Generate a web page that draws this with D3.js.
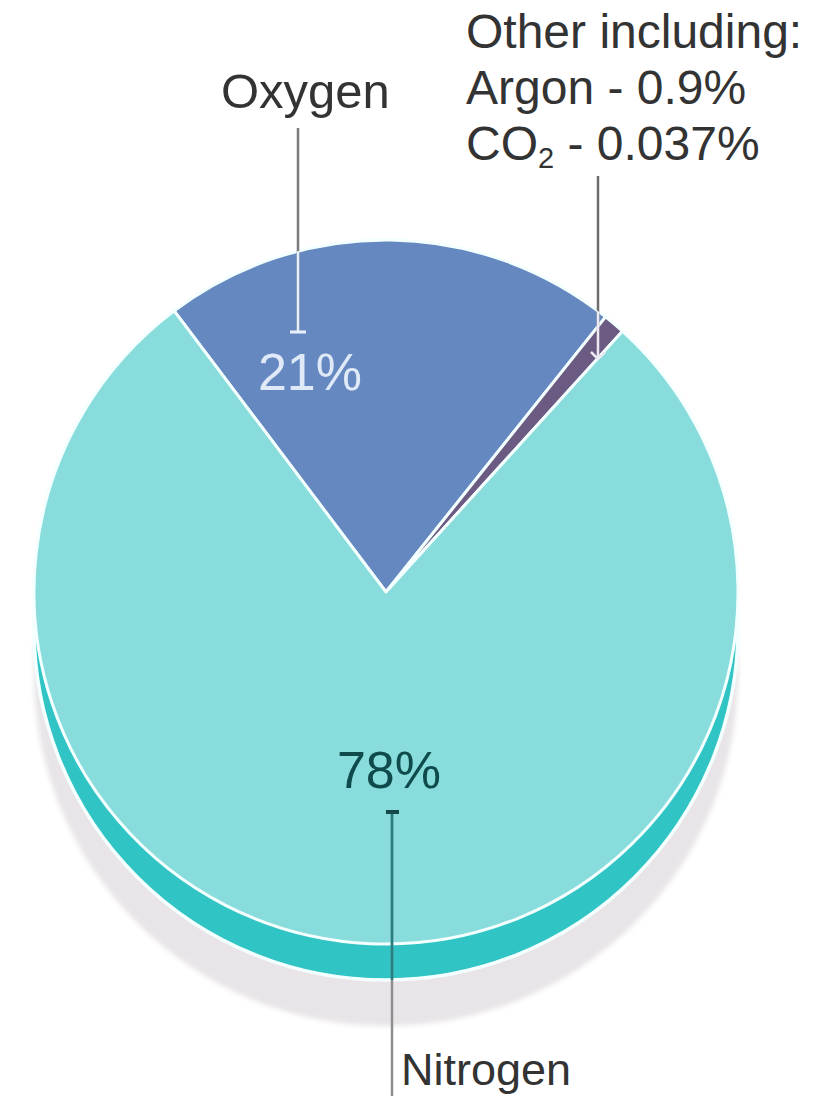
<!DOCTYPE html>
<html>
<head>
<meta charset="utf-8">
<script src="https://cdn.jsdelivr.net/npm/d3@7"></script>
<style>
  body { margin: 0; background: #fff; }
  svg { display: block; }
</style>
</head>
<body>
<svg id="chart"></svg>
<script>
// composition of dry air, percent
const gases = ['Oxygen', 'Other', 'Nitrogen']
const shares = [21, 1, 78]
const shareLabels = ['21%', '', '78%']
const sliceColors = ['#6688c1', '#6b5a82', '#88dcdc']
const otherLines = ['Other including:', 'Argon - 0.9%']

const W = 827, H = 1098
const cx = 386, cy = 592, r = 352
const depth = 36, drop = 82
const font = '"Liberation Sans", Arial, Helvetica, sans-serif'

let svg = d3.select('#chart')
    .attr('width', W)
    .attr('height', H)
    .style('font-family', font)

let defs = svg.append('defs')
defs.append('filter').attr('id', 'soft')
    .append('feGaussianBlur').attr('stdDeviation', 2.5)
defs.append('clipPath').attr('id', 'faceClip')
    .append('circle').attr('cx', cx).attr('cy', cy).attr('r', r)
let bodyClip = defs.append('clipPath').attr('id', 'bodyClip')
bodyClip.append('circle').attr('cx', cx).attr('cy', cy).attr('r', r)
bodyClip.append('circle').attr('cx', cx).attr('cy', cy + depth).attr('r', r)

let data = gases.map((g, i) => ({ name: g, value: shares[i], label: shareLabels[i], color: sliceColors[i] }))

let start = -37 * Math.PI / 180
let pie = d3.pie()
    .sort(null)
    .value(d => d.value)
    .startAngle(start)
    .endAngle(start + 2 * Math.PI)
let arc = d3.arc().innerRadius(0).outerRadius(r)

// shadow and side of the disc
svg.append('circle')
    .attr('cx', cx).attr('cy', cy + drop).attr('r', r)
    .attr('fill', '#e8e4e7')
    .attr('filter', 'url(#soft)')

svg.append('circle')
    .attr('cx', cx).attr('cy', cy + depth).attr('r', r)
    .attr('fill', '#31c4c4')
    .attr('stroke', '#f4ffff')
    .attr('stroke-width', 3.5)

// top face
let face = svg.append('g').attr('transform', `translate(${cx},${cy})`)
face.selectAll('path.slice')
    .data(pie(data))
    .enter()
    .append('path')
    .attr('class', 'slice')
    .attr('d', arc)
    .attr('fill', d => d.data.color)
    .attr('stroke', '#f4ffff')
    .attr('stroke-width', 3)
    .attr('stroke-linejoin', 'round')

// leader lines: grey outside, light or dark inside the disc
function leader(x, y1, y2, outer, inner, clip) {
    svg.append('line')
        .attr('x1', x).attr('x2', x).attr('y1', y1).attr('y2', y2)
        .attr('stroke', outer).attr('stroke-width', 2.5)
    svg.append('line')
        .attr('x1', x).attr('x2', x).attr('y1', y1).attr('y2', y2)
        .attr('stroke', inner).attr('stroke-width', 2.5)
        .attr('clip-path', `url(#${clip})`)
}

leader(298, 128, 332, '#7b7b7b', '#e8f0fa', 'faceClip')
svg.append('line')
    .attr('x1', 290).attr('x2', 306).attr('y1', 332).attr('y2', 332)
    .attr('stroke', '#e8f0fa').attr('stroke-width', 3)

leader(598, 176, 358, '#6e6e6e', '#eeeaf4', 'faceClip')
svg.append('path')
    .attr('d', 'M591,352 L598,359 L605,352')
    .attr('fill', 'none')
    .attr('stroke', '#eeeaf4').attr('stroke-width', 2.5)

leader(392, 812, 1096, '#8e8e8e', '#247f80', 'bodyClip')
svg.append('line')
    .attr('x1', 386).attr('x2', 399).attr('y1', 812).attr('y2', 812)
    .attr('stroke', '#14484a').attr('stroke-width', 4)

// share labels on the slices
let labelPos = { Oxygen: [310, 390, '#dfe9f8'], Nitrogen: [389, 788, '#0f4b4c'] }
svg.selectAll('text.share')
    .data(data.filter(d => d.label))
    .enter()
    .append('text')
    .attr('class', 'share')
    .attr('x', d => labelPos[d.name][0])
    .attr('y', d => labelPos[d.name][1])
    .attr('text-anchor', 'middle')
    .attr('fill', d => labelPos[d.name][2])
    .style('font-size', '52px')
    .text(d => d.label)

// names
svg.append('text')
    .attr('x', 221).attr('y', 108)
    .attr('fill', '#333')
    .style('font-size', '49px')
    .text('Oxygen')

svg.append('text')
    .attr('x', 401).attr('y', 1085)
    .attr('fill', '#333')
    .style('font-size', '45px')
    .text('Nitrogen')

svg.selectAll('text.other')
    .data(otherLines)
    .enter()
    .append('text')
    .attr('class', 'other')
    .attr('x', 466)
    .attr('y', (d, i) => 48 + 56 * i)
    .attr('fill', '#333')
    .style('font-size', '48px')
    .text(d => d)

let co2 = svg.append('text')
    .attr('x', 466).attr('y', 160)
    .attr('fill', '#333')
    .style('font-size', '48px')
co2.append('tspan').text('CO')
co2.append('tspan').attr('dy', 8).style('font-size', '29px').text('2')
co2.append('tspan').attr('dy', -8).text(' - 0.037%')
</script>
</body>
</html>
